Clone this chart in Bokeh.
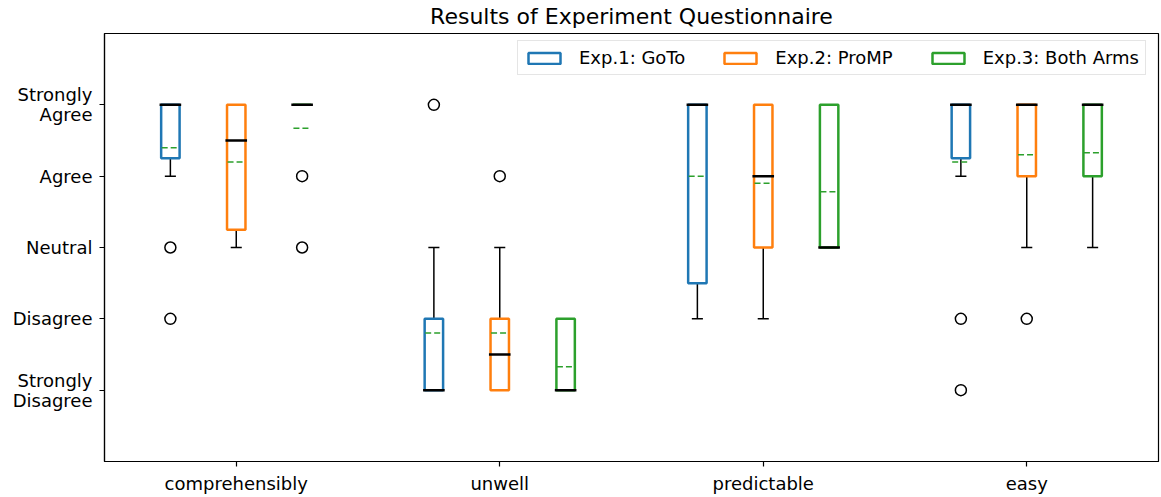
from bokeh.plotting import figure
from bokeh.models import FixedTicker, Legend, LegendItem, Range1d
from bokeh.embed import file_html
from bokeh.resources import INLINE

# ---- data ----
categories = ["comprehensibly", "unwell", "predictable", "easy"]
scale_levels = [1, 2, 3, 4, 5]
scale_labels = ["Strongly\nDisagree", "Disagree", "Neutral", "Agree", "Strongly\nAgree"]
series_names = ["Exp.1: GoTo", "Exp.2: ProMP", "Exp.3: Both Arms"]
series_colors = ["#1f77b4", "#ff7f0e", "#2ca02c"]
title_text = "Results of Experiment Questionnaire"

goto_q1 = [4.25, 1.0, 2.5, 4.25]
goto_q3 = [5.0, 2.0, 5.0, 5.0]
goto_median = [5.0, 1.0, 5.0, 5.0]
goto_mean = [4.4, 1.8, 4.0, 4.2]
goto_low = [4.0, 1.0, 2.0, 4.0]
goto_high = [5.0, 3.0, 5.0, 5.0]
goto_outliers = [[3, 2], [5], [], [2, 1]]

promp_q1 = [3.25, 1.0, 3.0, 4.0]
promp_q3 = [5.0, 2.0, 5.0, 5.0]
promp_median = [4.5, 1.5, 4.0, 5.0]
promp_mean = [4.2, 1.8, 3.9, 4.3]
promp_low = [3.0, 1.0, 2.0, 3.0]
promp_high = [5.0, 3.0, 5.0, 5.0]
promp_outliers = [[], [4], [], [2]]

both_q1 = [5.0, 1.0, 3.0, 4.0]
both_q3 = [5.0, 2.0, 5.0, 5.0]
both_median = [5.0, 1.0, 3.0, 5.0]
both_mean = [4.67, 1.33, 3.78, 4.33]
both_low = [5.0, 1.0, 3.0, 3.0]
both_high = [5.0, 2.0, 5.0, 5.0]
both_outliers = [[4, 3], [], [], []]

series = [
    (goto_q1, goto_q3, goto_median, goto_mean, goto_low, goto_high, goto_outliers),
    (promp_q1, promp_q3, promp_median, promp_mean, promp_low, promp_high, promp_outliers),
    (both_q1, both_q3, both_median, both_mean, both_low, both_high, both_outliers),
]

FONT = "DejaVu Sans"

p = figure(
    frame_width=1054, frame_height=428,
    min_border_left=104, min_border_right=2, min_border_top=32, min_border_bottom=36,
    x_range=Range1d(0.5, 4.5), y_range=Range1d(0, 6),
    output_backend="svg", toolbar_location=None,
    title=title_text,
)
p.title.text_font = FONT
p.title.text_font_size = "22px"
p.title.text_font_style = "normal"
p.title.text_color = "black"
p.title.align = "center"
p.title.vertical_align = "top"
p.title.standoff = 6

p.xgrid.visible = False
p.ygrid.visible = False
p.outline_line_color = "black"
p.outline_line_width = 1.2
p.background_fill_color = "white"
p.border_fill_color = "white"

group_pos = list(range(1, len(categories) + 1))
p.xaxis.ticker = FixedTicker(ticks=group_pos)
p.xaxis.major_label_overrides = {g: c for g, c in zip(group_pos, categories)}
p.yaxis.ticker = FixedTicker(ticks=scale_levels)
p.yaxis.major_label_overrides = {v: l for v, l in zip(scale_levels, scale_labels)}
for ax in (p.xaxis[0], p.yaxis[0]):
    ax.major_label_text_font = FONT
    ax.major_label_text_font_size = "18px"
    ax.major_label_text_color = "black"
    ax.major_label_text_line_height = 0.95
    ax.major_tick_out = 5
    ax.major_tick_in = 0
    ax.minor_tick_out = 0
    ax.minor_tick_in = 0
    ax.axis_line_color = "black"
    ax.axis_line_width = 1.2
    ax.major_tick_line_color = "black"
    ax.major_tick_line_width = 1.2
    ax.major_label_standoff = 6
p.yaxis.major_label_standoff = 7

offsets = [-0.25, 0.0, 0.25]
box_hw = 0.035
med_hw = 0.041
mean_hw = 0.033
cap_hw = 0.021

legend_items = []
for k, (q1, q3, med, mean, lo, hi, outl) in enumerate(series):
    xs = [g + offsets[k] for g in group_pos]
    color = series_colors[k]
    # whiskers
    p.segment(x0=xs, y0=q1, x1=xs, y1=lo, line_color="black", line_width=1.5)
    p.segment(x0=xs, y0=q3, x1=xs, y1=hi, line_color="black", line_width=1.5)
    # caps
    p.segment(x0=[x - cap_hw for x in xs], y0=lo, x1=[x + cap_hw for x in xs], y1=lo,
              line_color="black", line_width=1.5)
    p.segment(x0=[x - cap_hw for x in xs], y0=hi, x1=[x + cap_hw for x in xs], y1=hi,
              line_color="black", line_width=1.5)
    # boxes
    box = p.quad(left=[x - box_hw for x in xs], right=[x + box_hw for x in xs],
                 bottom=q1, top=q3, fill_alpha=0, line_color=color, line_width=2.5)
    legend_items.append(LegendItem(label=series_names[k], renderers=[box]))
    # medians
    p.segment(x0=[x - med_hw for x in xs], y0=med, x1=[x + med_hw for x in xs], y1=med,
              line_color="black", line_width=2.5)
    # means
    p.segment(x0=[x - mean_hw for x in xs], y0=mean, x1=[x + mean_hw for x in xs], y1=mean,
              line_color="#2ca02c", line_width=1.5, line_dash="6 3")
    # fliers
    fx, fy = [], []
    for x, vals in zip(xs, outl):
        for v in vals:
            fx.append(x)
            fy.append(v)
    p.scatter(x=fx, y=fy, marker="circle", size=11, fill_alpha=0,
              line_color="black", line_width=1.5)

legend = Legend(
    items=legend_items, orientation="horizontal", location=(413, 386),
    label_text_font=FONT, label_text_font_size="18px", label_text_color="black",
    glyph_width=40, glyph_height=14, label_standoff=15, spacing=35,
    padding=6, margin=0, border_line_color="#cccccc", border_line_width=1,
    background_fill_alpha=0.8,
)
p.add_layout(legend)

open("out.html", "w").write(file_html(p, INLINE))
